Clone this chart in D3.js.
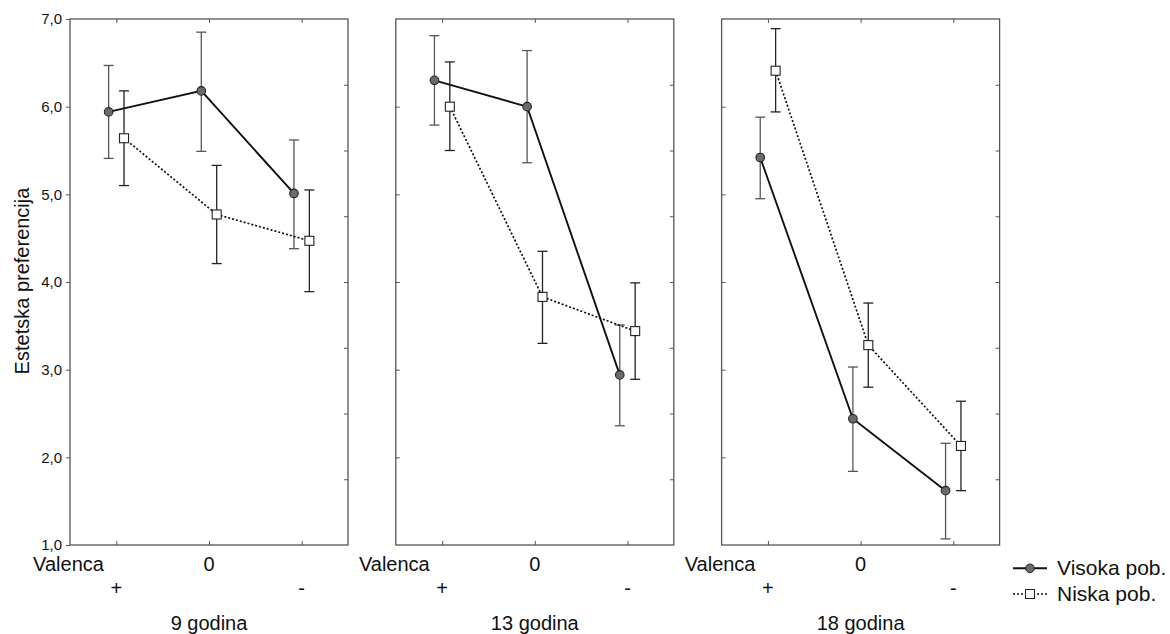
<!DOCTYPE html>
<html>
<head>
<meta charset="utf-8">
<script src="https://cdn.jsdelivr.net/npm/d3@7"></script>
<style>
  body { margin: 0; background: #fff; }
  text { font-family: Arial, "Liberation Sans", sans-serif; fill: #111; }
</style>
</head>
<body>
<div id="chart-area"></div>
<script>
const W = 1170
const H = 634

// Data
const groups = ["9 godina", "13 godina", "18 godina"]
const valence = ["+", "0", "-"]
const seriesNames = ["Visoka pob.", "Niska pob."]

const visokaMean = [[5.94, 6.18, 5.01], [6.30, 6.00, 2.94], [5.42, 2.44, 1.62]]
const visokaHigh = [[6.47, 6.85, 5.62], [6.81, 6.64, 3.51], [5.88, 3.03, 2.16]]
const visokaLow  = [[5.41, 5.49, 4.38], [5.79, 5.36, 2.36], [4.95, 1.84, 1.07]]

const niskaMean = [[5.64, 4.77, 4.47], [6.00, 3.83, 3.44], [6.41, 3.28, 2.13]]
const niskaHigh = [[6.18, 5.33, 5.05], [6.51, 4.35, 3.99], [6.89, 3.76, 2.64]]
const niskaLow  = [[5.10, 4.21, 3.89], [5.50, 3.30, 2.89], [5.94, 2.80, 1.62]]

const yTicks = [1, 2, 3, 4, 5, 6, 7]

const svg = d3.select("#chart-area").append("svg")
    .attr("width", W)
    .attr("height", H)

// Scales
const panel = d3.scaleBand()
    .domain(groups)
    .range([70, 999.6])
    .paddingInner(0.1467)
    .paddingOuter(0)

const x = d3.scalePoint()
    .domain(valence)
    .range([0, panel.bandwidth()])
    .padding(0.5)

const y = d3.scaleLinear()
    .domain([1, 7])
    .range([545, 19])

// right-hand frame ticks use 8 divisions
const yRight = d3.scaleLinear()
    .domain([0, 8])
    .range([545, 19])

const fmt = d => d.toFixed(1).replace(".", ",")
const OFF = 7.7

const series = [
    { name: seriesNames[0], mean: visokaMean, hi: visokaHigh, lo: visokaLow, off: -OFF, bar: "#555", dash: null, width: 1.9 },
    { name: seriesNames[1], mean: niskaMean, hi: niskaHigh, lo: niskaLow, off: OFF, bar: "#222", dash: "2,2", width: 1.7 }
]

groups.forEach((grp, gi) => {
    const w = panel.bandwidth()
    const g = svg.append("g")
        .attr("transform", `translate(${panel(grp)}, 0)`)

    // frame
    g.append("rect")
        .attr("x", 0).attr("y", y(7))
        .attr("width", w).attr("height", y(1) - y(7))
        .attr("fill", "none")
        .attr("stroke", "#555")
        .attr("stroke-width", 1.3)

    // left axis
    const leftAxis = gi === 0
        ? d3.axisLeft(y).tickValues(yTicks).tickSize(4).tickPadding(4).tickFormat(fmt)
        : d3.axisLeft(y).tickValues(yTicks.slice(1, -1)).tickSize(-4).tickFormat("")
    const la = g.append("g").call(leftAxis)
    la.select(".domain").remove()
    la.selectAll("line").attr("stroke", "#555")
    la.selectAll("text").attr("font-size", "15px").attr("fill", "#222")

    // right axis
    const ra = g.append("g")
        .attr("transform", `translate(${w}, 0)`)
        .call(d3.axisRight(yRight).tickValues(d3.range(1, 8)).tickSize(-4).tickFormat(""))
    ra.select(".domain").remove()
    ra.selectAll("line").attr("stroke", "#555")

    // top and bottom ticks
    const ta = g.append("g")
        .attr("transform", `translate(0, ${y(7)})`)
        .call(d3.axisTop(x).tickSize(-4).tickFormat(""))
    ta.select(".domain").remove()
    ta.selectAll("line").attr("stroke", "#555")
    const ba = g.append("g")
        .attr("transform", `translate(0, ${y(1)})`)
        .call(d3.axisBottom(x).tickSize(-4).tickFormat(""))
    ba.select(".domain").remove()
    ba.selectAll("line").attr("stroke", "#555")

    // category labels
    g.append("text")
        .attr("x", -1.5).attr("y", 570.5)
        .attr("text-anchor", "middle")
        .attr("font-size", "20px")
        .text("Valenca")
    g.append("text")
        .attr("x", x("0")).attr("y", 570.5)
        .attr("text-anchor", "middle")
        .attr("font-size", "20px")
        .text("0")
    ;["+", "-"].forEach(v => {
        g.append("text")
            .attr("x", x(v)).attr("y", 595)
            .attr("text-anchor", "middle")
            .attr("font-size", "20px")
            .text(v)
    })
    g.append("text")
        .attr("x", w / 2).attr("y", 630)
        .attr("text-anchor", "middle")
        .attr("font-size", "20px")
        .text(grp)

    series.forEach(s => {
        const pts = valence.map((v, i) => ({
            x: x(v) + s.off,
            m: s.mean[gi][i],
            hi: s.hi[gi][i],
            lo: s.lo[gi][i]
        }))

        // error bars
        const eb = g.append("g")
            .attr("stroke", s.bar)
            .attr("stroke-width", 1.3)
        eb.selectAll(".whisker").data(pts).enter().append("line")
            .attr("x1", d => d.x).attr("x2", d => d.x)
            .attr("y1", d => y(d.hi)).attr("y2", d => y(d.lo))
        eb.selectAll(".capTop").data(pts).enter().append("line")
            .attr("x1", d => d.x - 5).attr("x2", d => d.x + 5)
            .attr("y1", d => y(d.hi)).attr("y2", d => y(d.hi))
        eb.selectAll(".capBottom").data(pts).enter().append("line")
            .attr("x1", d => d.x - 5).attr("x2", d => d.x + 5)
            .attr("y1", d => y(d.lo)).attr("y2", d => y(d.lo))

        s.pts = pts
    })

    // lines
    series.forEach(s => {
        g.append("path")
            .datum(s.pts)
            .attr("fill", "none")
            .attr("stroke", "#111")
            .attr("stroke-width", s.width)
            .attr("stroke-dasharray", s.dash)
            .attr("d", d3.line().x(d => d.x).y(d => y(d.m)))
    })

    // markers
    g.selectAll(".visoka").data(series[0].pts).enter().append("circle")
        .attr("cx", d => d.x).attr("cy", d => y(d.m))
        .attr("r", 4.3)
        .attr("fill", "#6b6b6b")
        .attr("stroke", "#222")
        .attr("stroke-width", 1.1)
    g.selectAll(".niska").data(series[1].pts).enter().append("rect")
        .attr("x", d => d.x - 4.5).attr("y", d => y(d.m) - 4.5)
        .attr("width", 9).attr("height", 9)
        .attr("fill", "#fff")
        .attr("stroke", "#222")
        .attr("stroke-width", 1.1)
})

// Y label
svg.append("text")
    .attr("transform", "translate(29, 281) rotate(-90)")
    .attr("text-anchor", "middle")
    .attr("font-size", "20px")
    .text("Estetska preferencija")

// Legend
const legend = svg.append("g")
series.forEach((s, i) => {
    const ly = 568.3 + i * 25.7
    legend.append("line")
        .attr("x1", 1013).attr("x2", 1047)
        .attr("y1", ly).attr("y2", ly)
        .attr("stroke", "#111")
        .attr("stroke-width", s.width)
        .attr("stroke-dasharray", s.dash)
    if (i === 0) {
        legend.append("circle")
            .attr("cx", 1030).attr("cy", ly).attr("r", 4.3)
            .attr("fill", "#6b6b6b").attr("stroke", "#222")
    } else {
        legend.append("rect")
            .attr("x", 1025.5).attr("y", ly - 4.5)
            .attr("width", 9).attr("height", 9)
            .attr("fill", "#fff").attr("stroke", "#222")
    }
    legend.append("text")
        .attr("x", 1057).attr("y", ly + 7)
        .attr("font-size", "21px")
        .text(s.name)
})
</script>
</body>
</html>
